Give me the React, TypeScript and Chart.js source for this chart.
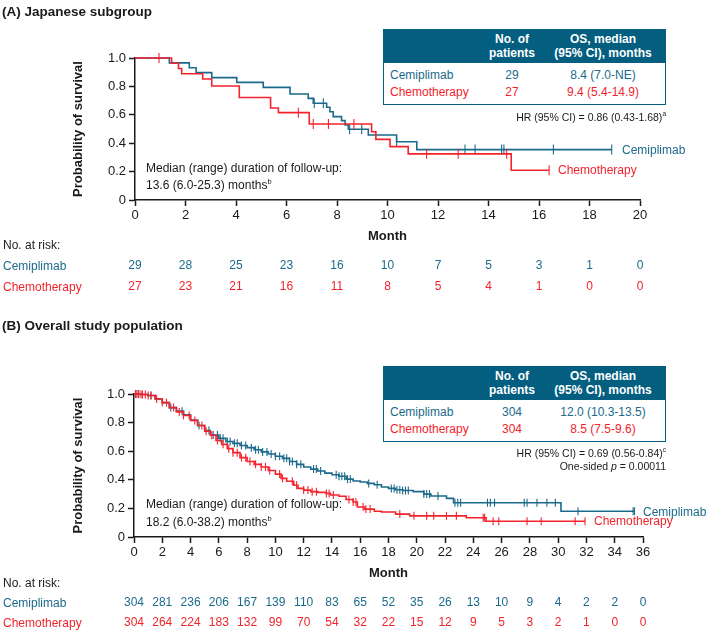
import React, { useEffect, useRef } from "react";
import { Chart, registerables } from "chart.js";

Chart.register(...registerables);

const FONT = '"Liberation Sans", Arial, Helvetica, sans-serif';
const TEAL = "#1b6a8b";
const HEAD = "#045e80";
const RED = "#f3232c";
const INK = "#1a1a1a";

Chart.defaults.font.family = FONT;

// ---------- (A) Japanese subgroup ----------
const jpMonths = [0, 2, 4, 6, 8, 10, 12, 14, 16, 18, 20];
const jpRiskCemi = [29, 28, 25, 23, 16, 10, 7, 5, 3, 1, 0];
const jpRiskChemo = [27, 23, 21, 16, 11, 8, 5, 4, 1, 0, 0];

const jpCemiTimes = [0, 1.36, 2.15, 2.42, 3.04, 4.03, 5.08, 6.14, 6.86, 7.06, 7.59, 7.72, 7.85, 8.18, 8.32, 8.45, 9.24, 10.36, 11.16, 18.88];
const jpCemiSurv = [1, 0.966, 0.931, 0.897, 0.862, 0.828, 0.793, 0.746, 0.716, 0.681, 0.653, 0.622, 0.587, 0.559, 0.528, 0.498, 0.458, 0.41, 0.355, 0.355];
const jpCemiCensor = [7.1, 7.46, 8.5, 8.98, 10.36, 13.07, 13.47, 14.52, 14.61, 16.57, 18.88];

const jpChemoTimes = [0, 1.45, 1.72, 1.85, 2.68, 3.04, 4.13, 5.37, 5.68, 6.9, 9.37, 9.54, 10.1, 10.82, 14.9, 16.4];
const jpChemoSurv = [1, 0.963, 0.926, 0.889, 0.852, 0.803, 0.722, 0.648, 0.615, 0.535, 0.481, 0.427, 0.376, 0.325, 0.209, 0.209];
const jpChemoCensor = [0.95, 6.47, 7.06, 7.66, 8.67, 11.55, 12.8, 14.72, 16.4];

// ---------- (B) Overall study population ----------
const allMonths = [0, 2, 4, 6, 8, 10, 12, 14, 16, 18, 20, 22, 24, 26, 28, 30, 32, 34, 36];
const allRiskCemi = [304, 281, 236, 206, 167, 139, 110, 83, 65, 52, 35, 26, 13, 10, 9, 4, 2, 2, 0];
const allRiskChemo = [304, 264, 224, 183, 132, 99, 70, 54, 32, 22, 15, 12, 9, 5, 3, 2, 1, 0, 0];

const allCemiTimes = [0, 0.5, 1, 1.5, 2, 2.5, 3, 3.5, 4, 4.5, 5, 5.4, 6, 6.5, 7, 7.5, 8, 8.5, 9, 9.5, 10, 10.5, 11, 11.5, 12, 12.5, 13, 13.5, 14, 14.5, 15, 15.5, 16, 16.5, 17, 17.5, 18, 18.5, 19, 19.75, 20.5, 21, 22.1, 22.6, 30.2, 35.4];
const allCemiSurv = [1, 0.997, 0.99, 0.965, 0.94, 0.905, 0.88, 0.855, 0.818, 0.78, 0.745, 0.713, 0.69, 0.668, 0.655, 0.64, 0.625, 0.61, 0.595, 0.58, 0.565, 0.55, 0.528, 0.508, 0.49, 0.475, 0.462, 0.447, 0.435, 0.425, 0.405, 0.392, 0.385, 0.375, 0.365, 0.35, 0.34, 0.33, 0.325, 0.317, 0.3, 0.287, 0.27, 0.24, 0.18, 0.18];
const allCemiCensor = [0.3, 1.2, 2.6, 3.4, 4.6, 5.3, 5.6, 5.9, 6.1, 6.3, 6.6, 6.8, 7.1, 7.3, 7.6, 7.9, 8.3, 8.6, 8.8, 9.1, 9.4, 9.7, 10.0, 10.3, 10.6, 10.8, 11.0, 11.2, 11.5, 11.8, 12.7, 12.9, 13.2, 14.3, 14.5, 14.7, 14.9, 15.1, 15.3, 16.6, 17.2, 18.2, 18.4, 18.6, 18.8, 19.0, 19.2, 19.4, 20.5, 20.7, 20.9, 21.5, 22.7, 22.9, 23.1, 25.0, 25.2, 25.5, 27.6, 27.8, 28.5, 29.2, 29.8, 31.4, 35.3, 35.4];

const allChemoTimes = [0, 0.5, 1, 1.5, 2, 2.5, 3, 3.5, 4, 4.5, 5, 5.4, 5.8, 6.2, 6.6, 7, 7.5, 8, 8.5, 9, 9.5, 10, 10.4, 10.8, 11.3, 11.6, 12, 12.5, 13, 13.6, 13.9, 14.5, 15, 15.5, 15.8, 16.3, 17, 17.5, 18.5, 19.5, 23.5, 24.9, 31.9];
const allChemoSurv = [1, 0.997, 0.99, 0.965, 0.94, 0.905, 0.875, 0.85, 0.815, 0.78, 0.74, 0.712, 0.675, 0.648, 0.618, 0.59, 0.555, 0.528, 0.508, 0.49, 0.465, 0.44, 0.41, 0.39, 0.362, 0.34, 0.328, 0.317, 0.312, 0.305, 0.294, 0.285, 0.262, 0.245, 0.21, 0.195, 0.18, 0.175, 0.16, 0.148, 0.135, 0.11, 0.11];
const allChemoCensor = [0.1, 0.2, 0.35, 0.5, 0.6, 0.8, 1.0, 1.2, 1.6, 2.0, 2.3, 2.8, 3.2, 3.5, 3.9, 4.3, 4.8, 5.1, 5.5, 5.9, 6.3, 6.7, 7.0, 7.3, 7.6, 7.9, 8.2, 8.6, 9.0, 9.3, 9.6, 10.3, 10.5, 11.2, 11.5, 12.0, 12.3, 12.6, 12.9, 13.6, 13.8, 14.1, 15.2, 15.5, 15.7, 16.2, 16.4, 16.7, 18.8, 19.8, 20.7, 21.2, 22.1, 22.8, 24.7, 24.8, 25.4, 25.8, 27.8, 28.8, 31.2, 31.9];

type Curve = { times: number[]; surv: number[]; censor: number[]; color: string };

function survAt(c: Curve, t: number) {
  let s = c.surv[0];
  for (let i = 0; i < c.times.length; i++) {
    if (c.times[i] <= t + 1e-9) s = c.surv[i];
    else break;
  }
  return s;
}

const riskPlugin = {
  id: "riskTable",
  afterDraw(chart: any, _args: any, opts: any) {
    const ctx = chart.ctx;
    const xs = chart.scales.x;
    ctx.save();
    ctx.font = `12px ${FONT}`;
    ctx.textAlign = "center";
    ctx.textBaseline = "middle";
    (opts.rows || []).forEach((r: any) => {
      ctx.fillStyle = r.color;
      opts.months.forEach((m: number, i: number) => {
        ctx.fillText(String(r.values[i]), xs.getPixelForValue(m), r.y);
      });
    });
    ctx.restore();
  },
};

type PanelProps = {
  top: number;
  height: number;
  xMax: number;
  yAxisWidth: number;
  padTop: number;
  padBottom: number;
  padRight: number;
  curves: Curve[];
  months: number[];
  riskRows: { values: number[]; color: string; y: number }[];
  censorRadius: number;
};

function KMPanel(p: PanelProps) {
  const ref = useRef<HTMLCanvasElement>(null);
  useEffect(() => {
    if (!ref.current) return;
    const datasets: any[] = [];
    p.curves.forEach((c) => {
      datasets.push({
        type: "line",
        data: c.times.map((t, i) => ({ x: t, y: c.surv[i] })),
        borderColor: c.color,
        borderWidth: 1.6,
        stepped: "before",
        pointRadius: 0,
        fill: false,
        clip: false,
      });
      datasets.push({
        type: "line",
        showLine: false,
        data: c.censor.map((t) => ({ x: t, y: survAt(c, t) })),
        pointStyle: "line",
        pointRotation: 90,
        pointRadius: p.censorRadius,
        pointBorderColor: c.color,
        pointBorderWidth: 1.1,
        borderColor: c.color,
        clip: false,
      });
    });
    const tickFont = { family: FONT, size: 13 };
    const chart = new Chart(ref.current, {
      type: "line",
      data: { datasets },
      plugins: [riskPlugin as any],
      options: {
        animation: false,
        responsive: false,
        maintainAspectRatio: false,
        events: [],
        layout: { padding: { left: 0, top: p.padTop, right: p.padRight, bottom: p.padBottom } },
        plugins: {
          legend: { display: false },
          tooltip: { enabled: false },
          riskTable: { months: p.months, rows: p.riskRows },
        } as any,
        scales: {
          x: {
            type: "linear",
            min: 0,
            max: p.xMax,
            afterFit: (s: any) => {
              s.height = 44;
            },
            ticks: {
              stepSize: 2,
              autoSkip: false,
              maxRotation: 0,
              color: INK,
              padding: 2,
              font: tickFont,
              callback: (v: any) => String(v),
            },
            grid: { drawOnChartArea: false, drawTicks: true, tickLength: 6, tickColor: INK, tickWidth: 1.5 },
            border: { display: true, color: INK, width: 1.5 },
            title: {
              display: true,
              text: "Month",
              color: INK,
              font: { family: FONT, size: 13, weight: "bold" },
              padding: { top: 0, bottom: 0 },
            },
          },
          y: {
            type: "linear",
            min: 0,
            max: 1,
            afterFit: (s: any) => {
              s.width = p.yAxisWidth;
            },
            ticks: {
              stepSize: 0.2,
              color: INK,
              padding: 3,
              font: tickFont,
              callback: (v: any) => (Number(v) === 0 ? "0" : Number(v).toFixed(1)),
            },
            grid: { drawOnChartArea: false, drawTicks: true, tickLength: 6, tickColor: INK, tickWidth: 1.5 },
            border: { display: true, color: INK, width: 1.5 },
            title: {
              display: true,
              text: "Probability of survival",
              color: INK,
              font: { family: FONT, size: 13, weight: "bold" },
              padding: { top: 71, bottom: 0 },
            },
          },
        },
      } as any,
    });
    return () => chart.destroy();
  }, []);
  return (
    <canvas
      ref={ref}
      width={709}
      height={p.height}
      style={{ position: "absolute", left: 0, top: p.top, width: 709, height: p.height }}
    />
  );
}

function T(props: {
  x: number;
  y: number;
  align?: "left" | "center" | "right";
  size?: number;
  color?: string;
  bold?: boolean;
  children: React.ReactNode;
}) {
  const { x, y, align = "left", size = 12, color = INK, bold = false, children } = props;
  const tx = align === "left" ? "0" : align === "center" ? "-50%" : "-100%";
  return (
    <div
      style={{
        position: "absolute",
        left: x,
        top: y,
        transform: `translate(${tx}, -50%)`,
        fontSize: size,
        lineHeight: 1,
        color,
        fontWeight: bold ? 700 : 400,
        whiteSpace: "nowrap",
      }}
    >
      {children}
    </div>
  );
}

const Sup = ({ children }: { children: React.ReactNode }) => (
  <sup style={{ fontSize: "0.62em", lineHeight: 0, verticalAlign: "super" }}>{children}</sup>
);

function SummaryTable(props: { left: number; top: number; rows: { name: string; n: string; os: string; color: string }[] }) {
  const { left, top, rows } = props;
  const w = 283;
  const hh = 34;
  const bh = 42;
  return (
    <div style={{ position: "absolute", left, top, width: w, height: hh + bh, background: "#fff" }}>
      <div style={{ position: "absolute", left: 0, top: 0, width: w, height: hh, background: HEAD }} />
      <div
        style={{
          position: "absolute",
          left: 0,
          top: 0,
          width: w,
          height: hh + bh,
          boxSizing: "border-box",
          border: `1.5px solid ${HEAD}`,
        }}
      />
      <T x={129} y={10.3} align="center" bold color="#fff">No. of</T>
      <T x={129} y={23.7} align="center" bold color="#fff">patients</T>
      <T x={220} y={10.3} align="center" bold color="#fff">OS, median</T>
      <T x={220} y={23.7} align="center" bold color="#fff">(95% CI), months</T>
      {rows.map((r, i) => (
        <React.Fragment key={r.name}>
          <T x={7} y={46 + i * 16.8} color={r.color}>{r.name}</T>
          <T x={129} y={46 + i * 16.8} align="center" color={r.color}>{r.n}</T>
          <T x={220} y={46 + i * 16.8} align="center" color={r.color}>{r.os}</T>
        </React.Fragment>
      ))}
    </div>
  );
}

export default function App() {
  const jpCemi: Curve = { times: jpCemiTimes, surv: jpCemiSurv, censor: jpCemiCensor, color: TEAL };
  const jpChemo: Curve = { times: jpChemoTimes, surv: jpChemoSurv, censor: jpChemoCensor, color: RED };
  const allCemi: Curve = { times: allCemiTimes, surv: allCemiSurv, censor: allCemiCensor, color: TEAL };
  const allChemo: Curve = { times: allChemoTimes, surv: allChemoSurv, censor: allChemoCensor, color: RED };

  return (
    <div
      style={{
        position: "fixed",
        left: 0,
        top: 0,
        width: 709,
        height: 634,
        background: "#fff",
        fontFamily: FONT,
        overflow: "hidden",
      }}
    >
      {/* Panel A */}
      <KMPanel
        top={0}
        height={300}
        xMax={20}
        yAxisWidth={135}
        padTop={58}
        padBottom={56}
        padRight={69}
        curves={[jpChemo, jpCemi]}
        months={jpMonths}
        riskRows={[
          { values: jpRiskCemi, color: TEAL, y: 266 },
          { values: jpRiskChemo, color: RED, y: 287 },
        ]}
        censorRadius={5}
      />
      <T x={2} y={12} size={13.5} bold>(A) Japanese subgroup</T>
      <SummaryTable
        left={383}
        top={29}
        rows={[
          { name: "Cemiplimab", n: "29", os: "8.4 (7.0-NE)", color: TEAL },
          { name: "Chemotherapy", n: "27", os: "9.4 (5.4-14.9)", color: RED },
        ]}
      />
      <T x={666} y={116.5} align="right" size={10.5}>
        HR (95% CI) = 0.86 (0.43-1.68)<Sup>a</Sup>
      </T>
      <T x={622} y={150} color={TEAL}>Cemiplimab</T>
      <T x={558} y={170} color={RED}>Chemotherapy</T>
      <T x={146} y={168}>Median (range) duration of follow-up:</T>
      <T x={146} y={185}>
        13.6 (6.0-25.3) months<Sup>b</Sup>
      </T>
      <T x={3} y={245}>No. at risk:</T>
      <T x={3} y={266} color={TEAL}>Cemiplimab</T>
      <T x={3} y={287} color={RED}>Chemotherapy</T>

      {/* Panel B */}
      <KMPanel
        top={310}
        height={324}
        xMax={36}
        yAxisWidth={134}
        padTop={84}
        padBottom={53}
        padRight={66}
        curves={[allChemo, allCemi]}
        months={allMonths}
        riskRows={[
          { values: allRiskCemi, color: TEAL, y: 293 },
          { values: allRiskChemo, color: RED, y: 313 },
        ]}
        censorRadius={4}
      />
      <T x={2} y={326} size={13.5} bold>(B) Overall study population</T>
      <SummaryTable
        left={383}
        top={366}
        rows={[
          { name: "Cemiplimab", n: "304", os: "12.0 (10.3-13.5)", color: TEAL },
          { name: "Chemotherapy", n: "304", os: "8.5 (7.5-9.6)", color: RED },
        ]}
      />
      <T x={666} y={453} align="right" size={10.5}>
        HR (95% CI) = 0.69 (0.56-0.84)<Sup>c</Sup>
      </T>
      <T x={666} y={466} align="right" size={10.5}>
        One-sided <i>p</i> = 0.00011
      </T>
      <T x={643} y={512} color={TEAL}>Cemiplimab</T>
      <T x={594} y={521} color={RED}>Chemotherapy</T>
      <T x={146} y={504}>Median (range) duration of follow-up:</T>
      <T x={146} y={521.5}>
        18.2 (6.0-38.2) months<Sup>b</Sup>
      </T>
      <T x={3} y={583}>No. at risk:</T>
      <T x={3} y={603} color={TEAL}>Cemiplimab</T>
      <T x={3} y={623} color={RED}>Chemotherapy</T>
    </div>
  );
}
